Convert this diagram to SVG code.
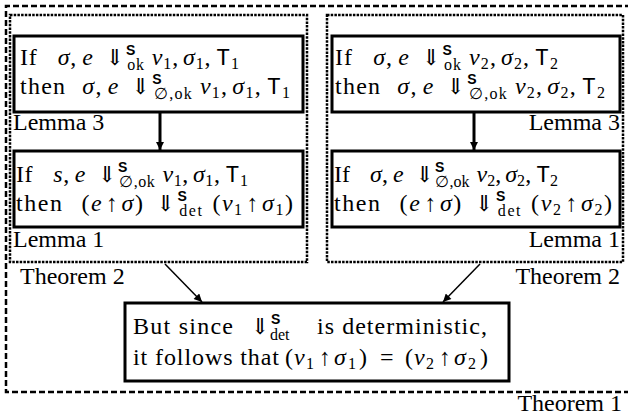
<svg xmlns="http://www.w3.org/2000/svg" width="628" height="417" viewBox="0 0 628 417">
<style>
text{font-family:'Liberation Serif','Times New Roman',serif;font-size:24px;fill:#000}
.i{font-style:italic}
.ar{font-family:'DejaVu Serif',serif;font-size:22px}
.S{font-family:'Liberation Sans',sans-serif;font-weight:bold;font-size:14px}
.sb{font-size:16px}
.tt{font-family:'Liberation Mono',monospace;font-size:23px}
.box{fill:#fff;stroke:#000;stroke-width:3}
.dot{fill:none;stroke:#000;stroke-width:2.5;stroke-dasharray:2.5 1.2}
.dash{fill:none;stroke:#000;stroke-width:2.5;stroke-dasharray:6 3}
.edge{fill:none;stroke:#000}
</style>
<defs>
<marker id="ah" viewBox="0 0 10 10" refX="10" refY="5" markerWidth="11" markerHeight="8" orient="auto" markerUnits="userSpaceOnUse">
<path d="M0,0 L10,5 L0,10 z" fill="#000"/>
</marker>
<marker id="ah2" viewBox="0 0 10 10" refX="10" refY="5" markerWidth="10" markerHeight="8" orient="auto" markerUnits="userSpaceOnUse">
<path d="M0,0 L10,5 L0,10 z" fill="#000"/>
</marker>
</defs>
<rect width="628" height="417" fill="#fff"/>

<g id="theorem1">
<path class="dash" d="M640 6 H6 V392 H640"/>
<text x="622" y="411" text-anchor="end">Theorem 1</text>
</g>

<g id="theorem2-left">
<rect class="dot" x="10" y="15" width="297" height="247"/>
<text x="20" y="284">Theorem 2</text>
</g>
<g id="theorem2-right">
<rect class="dot" x="327" y="15" width="296" height="247"/>
<text x="620" y="284" text-anchor="end">Theorem 2</text>
</g>

<g id="lemma3-left">
<rect class="box" x="14" y="36" width="289" height="76"/>
<text x="20" y="65" textLength="219" lengthAdjust="spacing">If<tspan dx="20" class="i">σ</tspan>,<tspan dx="5" class="i">e</tspan><tspan dx="12" class="ar">⇓</tspan><tspan class="S" dx="1" dy="-10">S</tspan><tspan class="sb" dx="-9" dy="15">ok</tspan><tspan class="i" dx="7" dy="-5">v</tspan><tspan class="sb" dy="4">1</tspan><tspan dy="-4">,</tspan><tspan class="i" dx="4">σ</tspan><tspan class="sb" dy="4">1</tspan><tspan dy="-4">,</tspan><tspan class="tt" dx="5">T</tspan><tspan class="sb" dy="4">1</tspan></text>
<text x="20" y="94" textLength="270" lengthAdjust="spacing">then<tspan dx="16" class="i">σ</tspan>,<tspan dx="5" class="i">e</tspan><tspan dx="12" class="ar">⇓</tspan><tspan class="S" dx="1" dy="-10">S</tspan><tspan class="sb" dx="-9" dy="15">∅,ok</tspan><tspan class="i" dx="7" dy="-5">v</tspan><tspan class="sb" dy="4">1</tspan><tspan dy="-4">,</tspan><tspan class="i" dx="4">σ</tspan><tspan class="sb" dy="4">1</tspan><tspan dy="-4">,</tspan><tspan class="tt" dx="5">T</tspan><tspan class="sb" dy="4">1</tspan></text>
<text x="13" y="130">Lemma 3</text>
</g>

<g id="lemma1-left">
<rect class="box" x="14" y="151" width="289" height="76"/>
<text x="16" y="182" textLength="232" lengthAdjust="spacing">If<tspan dx="20" class="i">s</tspan>,<tspan dx="5" class="i">e</tspan><tspan dx="12" class="ar">⇓</tspan><tspan class="S" dx="1" dy="-10">S</tspan><tspan class="sb" dx="-9" dy="15">∅,ok</tspan><tspan class="i" dx="7" dy="-5">v</tspan><tspan class="sb" dy="4">1</tspan><tspan dy="-4">,</tspan><tspan class="i" dx="4">σ</tspan><tspan class="sb" dy="4">1</tspan><tspan dy="-4">,</tspan><tspan class="tt" dx="5">T</tspan><tspan class="sb" dy="4">1</tspan></text>
<text x="16" y="211" textLength="277" lengthAdjust="spacing">then<tspan dx="18">(</tspan><tspan class="i">e</tspan><tspan dx="3">↑</tspan><tspan class="i" dx="2">σ</tspan>)<tspan dx="12" class="ar">⇓</tspan><tspan class="S" dx="1" dy="-10">S</tspan><tspan class="sb" dx="-9" dy="15">det</tspan><tspan dx="9" dy="-5">(</tspan><tspan class="i">v</tspan><tspan class="sb" dy="4">1</tspan><tspan dx="3" dy="-4">↑</tspan><tspan class="i" dx="2">σ</tspan><tspan class="sb" dy="4">1</tspan><tspan dy="-4">)</tspan></text>
<text x="13" y="247">Lemma 1</text>
</g>

<g id="lemma3-right">
<rect class="box" x="332" y="36" width="288" height="76"/>
<text x="335" y="65" textLength="223" lengthAdjust="spacing">If<tspan dx="20" class="i">σ</tspan>,<tspan dx="5" class="i">e</tspan><tspan dx="12" class="ar">⇓</tspan><tspan class="S" dx="1" dy="-10">S</tspan><tspan class="sb" dx="-9" dy="15">ok</tspan><tspan class="i" dx="7" dy="-5">v</tspan><tspan class="sb" dy="4">2</tspan><tspan dy="-4">,</tspan><tspan class="i" dx="4">σ</tspan><tspan class="sb" dy="4">2</tspan><tspan dy="-4">,</tspan><tspan class="tt" dx="5">T</tspan><tspan class="sb" dy="4">2</tspan></text>
<text x="335" y="94" textLength="270" lengthAdjust="spacing">then<tspan dx="16" class="i">σ</tspan>,<tspan dx="5" class="i">e</tspan><tspan dx="12" class="ar">⇓</tspan><tspan class="S" dx="1" dy="-10">S</tspan><tspan class="sb" dx="-9" dy="15">∅,ok</tspan><tspan class="i" dx="7" dy="-5">v</tspan><tspan class="sb" dy="4">2</tspan><tspan dy="-4">,</tspan><tspan class="i" dx="4">σ</tspan><tspan class="sb" dy="4">2</tspan><tspan dy="-4">,</tspan><tspan class="tt" dx="5">T</tspan><tspan class="sb" dy="4">2</tspan></text>
<text x="620" y="130" text-anchor="end">Lemma 3</text>
</g>

<g id="lemma1-right">
<rect class="box" x="332" y="151" width="288" height="76"/>
<text x="334" y="182" textLength="224" lengthAdjust="spacing">If<tspan dx="20" class="i">σ</tspan>,<tspan dx="5" class="i">e</tspan><tspan dx="12" class="ar">⇓</tspan><tspan class="S" dx="1" dy="-10">S</tspan><tspan class="sb" dx="-9" dy="15">∅,ok</tspan><tspan class="i" dx="7" dy="-5">v</tspan><tspan class="sb" dy="4">2</tspan><tspan dy="-4">,</tspan><tspan class="i" dx="4">σ</tspan><tspan class="sb" dy="4">2</tspan><tspan dy="-4">,</tspan><tspan class="tt" dx="5">T</tspan><tspan class="sb" dy="4">2</tspan></text>
<text x="334" y="211" textLength="278" lengthAdjust="spacing">then<tspan dx="18">(</tspan><tspan class="i">e</tspan><tspan dx="3">↑</tspan><tspan class="i" dx="2">σ</tspan>)<tspan dx="12" class="ar">⇓</tspan><tspan class="S" dx="1" dy="-10">S</tspan><tspan class="sb" dx="-9" dy="15">det</tspan><tspan dx="9" dy="-5">(</tspan><tspan class="i">v</tspan><tspan class="sb" dy="4">2</tspan><tspan dx="3" dy="-4">↑</tspan><tspan class="i" dx="2">σ</tspan><tspan class="sb" dy="4">2</tspan><tspan dy="-4">)</tspan></text>
<text x="620" y="247" text-anchor="end">Lemma 1</text>
</g>

<g id="conclusion">
<rect class="box" x="125" y="303" width="384" height="78"/>
<text y="334"><tspan x="133" textLength="100" lengthAdjust="spacing">But since</tspan><tspan class="ar" x="251">⇓</tspan><tspan class="S" x="271" y="324">S</tspan><tspan class="sb" x="270" y="340">det</tspan><tspan x="317" y="334" textLength="170" lengthAdjust="spacing">is deterministic,</tspan></text>
<text y="365"><tspan x="133" textLength="146" lengthAdjust="spacing">it follows that</tspan><tspan x="285">(</tspan><tspan class="i" x="294">v</tspan><tspan class="sb" x="306" y="369">1</tspan><tspan x="319" y="365">↑</tspan><tspan class="i" x="334">σ</tspan><tspan class="sb" x="348" y="369">1</tspan><tspan x="359" y="365">)</tspan><tspan x="380">=</tspan><tspan x="405">(</tspan><tspan class="i" x="414">v</tspan><tspan class="sb" x="426" y="369">2</tspan><tspan x="439" y="365">↑</tspan><tspan class="i" x="454">σ</tspan><tspan class="sb" x="468" y="369">2</tspan><tspan x="480" y="365">)</tspan></text>
</g>

<g id="connectors">
<line class="edge" x1="160" y1="113" x2="160" y2="150" stroke-width="3" marker-end="url(#ah)"/>
<line class="edge" x1="474" y1="113" x2="474" y2="150" stroke-width="3" marker-end="url(#ah)"/>
<line class="edge" x1="165" y1="264" x2="202" y2="302" stroke-width="1.5" marker-end="url(#ah2)"/>
<line class="edge" x1="480" y1="264" x2="443" y2="302" stroke-width="1.5" marker-end="url(#ah2)"/>
</g>
</svg>
